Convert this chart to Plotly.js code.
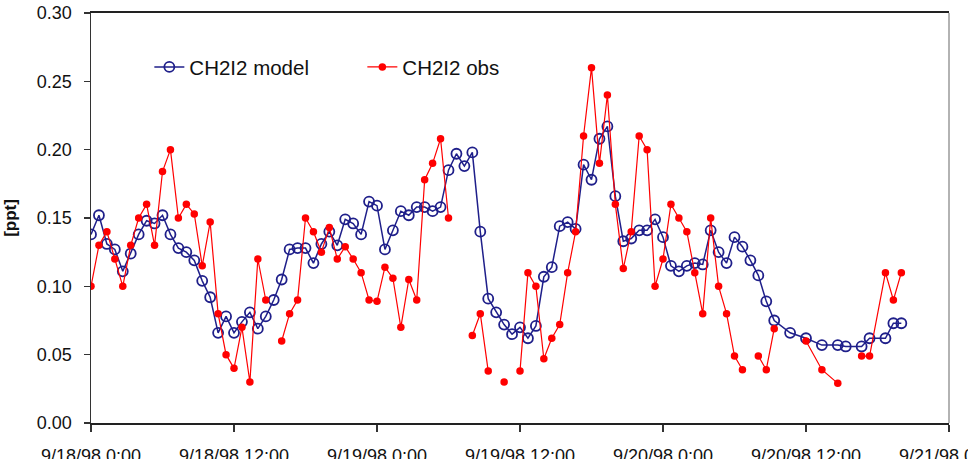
<!DOCTYPE html>
<html>
<head>
<meta charset="utf-8">
<script src="https://cdn.plot.ly/plotly-3.0.1.min.js"></script>
<style>html,body{margin:0;padding:0;background:#fff;}#chart{width:968px;height:459px;}</style>
</head>
<body>
<div id="chart"></div>
<script>
// Sample times (every 40 min, only those used by either series)
const times = [
  '1998-09-18 00:00','1998-09-18 00:40','1998-09-18 01:20','1998-09-18 02:00','1998-09-18 02:40','1998-09-18 03:20',
  '1998-09-18 04:00','1998-09-18 04:40','1998-09-18 05:20','1998-09-18 06:00','1998-09-18 06:40','1998-09-18 07:20',
  '1998-09-18 08:00','1998-09-18 08:40','1998-09-18 09:20','1998-09-18 10:00','1998-09-18 10:40','1998-09-18 11:20',
  '1998-09-18 12:00','1998-09-18 12:40','1998-09-18 13:20','1998-09-18 14:00','1998-09-18 14:40','1998-09-18 15:20',
  '1998-09-18 16:00','1998-09-18 16:40','1998-09-18 17:20','1998-09-18 18:00','1998-09-18 18:40','1998-09-18 19:20',
  '1998-09-18 20:00','1998-09-18 20:40','1998-09-18 21:20','1998-09-18 22:00','1998-09-18 22:40','1998-09-18 23:20',
  '1998-09-19 00:00','1998-09-19 00:40','1998-09-19 01:20','1998-09-19 02:00','1998-09-19 02:40','1998-09-19 03:20',
  '1998-09-19 04:00','1998-09-19 04:40','1998-09-19 05:20','1998-09-19 06:00','1998-09-19 06:40','1998-09-19 07:20',
  '1998-09-19 08:00','1998-09-19 08:40','1998-09-19 09:20','1998-09-19 10:00','1998-09-19 10:40','1998-09-19 11:20',
  '1998-09-19 12:00','1998-09-19 12:40','1998-09-19 13:20','1998-09-19 14:00','1998-09-19 14:40','1998-09-19 15:20',
  '1998-09-19 16:00','1998-09-19 16:40','1998-09-19 17:20','1998-09-19 18:00','1998-09-19 18:40','1998-09-19 19:20',
  '1998-09-19 20:00','1998-09-19 20:40','1998-09-19 21:20','1998-09-19 22:00','1998-09-19 22:40','1998-09-19 23:20',
  '1998-09-20 00:00','1998-09-20 00:40','1998-09-20 01:20','1998-09-20 02:00','1998-09-20 02:40','1998-09-20 03:20',
  '1998-09-20 04:00','1998-09-20 04:40','1998-09-20 05:20','1998-09-20 06:00','1998-09-20 06:40','1998-09-20 07:20',
  '1998-09-20 08:00','1998-09-20 08:40','1998-09-20 09:20',
  '1998-09-20 10:40','1998-09-20 12:00','1998-09-20 13:20','1998-09-20 14:40','1998-09-20 15:20','1998-09-20 16:40',
  '1998-09-20 17:20','1998-09-20 18:40','1998-09-20 19:20','1998-09-20 20:00'
];

const modelValues = [
  0.138,0.152,0.131,0.127,0.111,0.124,0.138,0.148,0.146,0.152,0.138,0.128,
  0.125,0.119,0.104,0.092,0.066,0.078,0.066,0.074,0.081,0.069,0.078,0.090,
  0.105,0.127,0.128,0.128,0.117,0.131,0.140,0.130,0.149,0.146,0.138,0.162,
  0.159,0.127,0.141,0.155,0.152,0.158,0.158,0.155,0.158,0.185,0.197,0.188,
  0.198,0.140,0.091,0.081,0.072,0.065,0.070,0.062,0.071,0.107,0.114,0.144,
  0.147,0.142,0.189,0.178,0.208,0.217,0.166,0.133,0.135,0.141,0.141,0.149,
  0.136,0.115,0.111,0.115,0.117,0.116,0.141,0.125,0.117,0.136,0.129,0.119,
  0.108,0.089,0.075,
  0.066,0.062,0.057,0.057,0.056,0.056,0.062,0.062,0.073,0.073
];

const obsValues = [
  0.100,0.130,0.140,0.120,0.100,0.130,0.150,0.160,0.130,0.184,0.200,0.150,
  0.160,0.153,0.115,0.147,0.080,0.050,0.040,0.070,0.030,0.120,0.090,null,
  0.060,0.080,0.090,0.150,0.140,0.125,0.143,0.120,0.129,0.120,0.110,0.090,
  0.089,0.114,0.106,0.070,0.105,0.090,0.178,0.190,0.208,0.150,null,null,
  0.064,0.080,0.038,null,0.030,null,0.038,0.110,0.100,0.047,0.062,0.072,
  0.110,0.140,0.210,0.260,0.190,0.240,0.160,0.113,0.140,0.210,0.200,0.100,
  0.120,0.160,0.150,0.140,0.110,0.080,0.150,0.100,0.080,0.049,0.039,null,
  0.049,0.039,0.069,
  null,0.060,0.039,0.029,null,0.049,0.049,0.110,0.090,0.110
];

const seriesNames = ['CH2I2 model','CH2I2 obs'];
const xTickFormat = '%-m/%-d/%y %-H:%M';
const yTitle = '[ppt]';

const FONT = 'Arial, "Liberation Sans", sans-serif';

const traces = [
  {
    x: times, y: modelValues, name: seriesNames[0], type: 'scatter', mode: 'lines+markers',
    connectgaps: true,
    line: {color: '#1f1f8a', width: 1.5},
    marker: {symbol: 'circle-open', size: 10, color: '#1f1f8a', line: {width: 1.8, color: '#1f1f8a'}}
  },
  {
    x: times, y: obsValues, name: seriesNames[1], type: 'scatter', mode: 'lines+markers',
    connectgaps: false,
    line: {color: '#ff0000', width: 1.2},
    marker: {symbol: 'circle', size: 7.5, color: '#ff0000'}
  }
];

const layout = {
  width: 968, height: 459,
  margin: {l: 91, r: 19, t: 13, b: 36, pad: 0},
  paper_bgcolor: '#ffffff', plot_bgcolor: '#ffffff',
  font: {family: FONT, size: 18, color: '#111111'},
  showlegend: true,
  legend: {
    orientation: 'h', x: 0.068, y: 0.868, xanchor: 'left', yanchor: 'middle',
    font: {family: FONT, size: 20.5, color: '#111111'},
    bgcolor: 'rgba(0,0,0,0)', entrywidth: 168, entrywidthmode: 'pixels',
    traceorder: 'normal'
  },
  xaxis: {
    type: 'date',
    range: ['1998-09-18 00:00', '1998-09-21 00:00'],
    tick0: '1998-09-18 00:00', dtick: 43200000,
    tickformat: xTickFormat,
    ticks: 'outside', ticklen: 7, tickwidth: 1.2, tickcolor: '#333',
    showline: true, linecolor: '#222', linewidth: 2, mirror: true,
    showgrid: false, zeroline: false,
    tickfont: {family: FONT, size: 18, color: '#111'},
    ticklabeloverflow: 'allow',
    ticklabelstandoff: 8
  },
  yaxis: {
    range: [0, 0.30],
    tick0: 0, dtick: 0.05, tickformat: '.2f',
    ticks: 'outside', ticklen: 6, tickwidth: 1.2, tickcolor: '#333',
    showline: true, linecolor: '#333', linewidth: 1.5,
    showgrid: false, zeroline: false,
    tickfont: {family: FONT, size: 18, color: '#111'},
    ticklabelstandoff: 8,
    title: {text: '<b>' + yTitle + '</b>', font: {family: FONT, size: 17, color: '#111'}, standoff: 16}
  },
  shapes: [
    {type: 'line', xref: 'paper', yref: 'paper', x0: 1, x1: 1, y0: 0, y1: 1,
     line: {color: '#9a9a9a', width: 1.5}}
  ]
};

Plotly.newPlot('chart', traces, layout, {displayModeBar: false, staticPlot: true});
</script>
</body>
</html>
